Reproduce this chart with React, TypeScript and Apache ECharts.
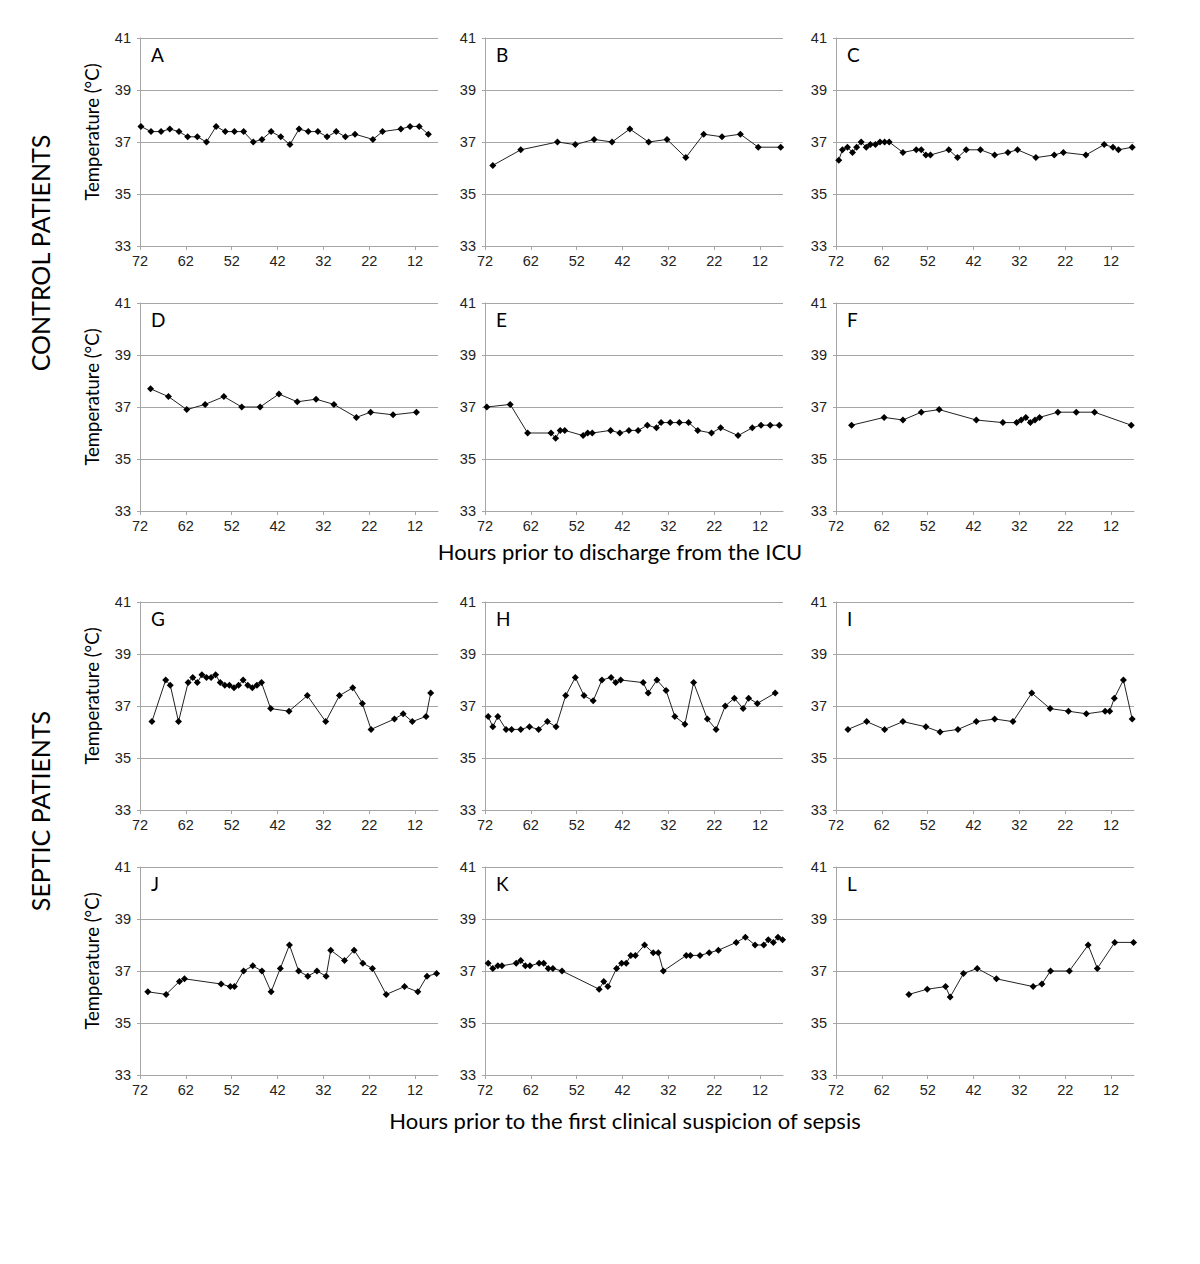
import React, { useEffect, useRef } from "react";
import * as echarts from "echarts";

// ---- tick labels ----
const xTicks = [72, 62, 52, 42, 32, 22, 12];
const yTicks = [33, 35, 37, 39, 41];
const panelLetters = ["A", "B", "C", "D", "E", "F", "G", "H", "I", "J", "K", "L"];

// ---- series values (hours prior, temperature °C) ----
const hoursA = [71.8, 69.6, 67.4, 65.5, 63.5, 61.6, 59.5, 57.5, 55.4, 53.4, 51.4, 49.4, 47.3, 45.4, 43.4, 41.3, 39.3, 37.3, 35.3, 33.2, 31.2, 29.2, 27.2, 25.1, 21.2, 19.1, 15.1, 13.1, 11.1, 9.1];
const tempsA = [37.6, 37.4, 37.4, 37.5, 37.4, 37.2, 37.2, 37.0, 37.6, 37.4, 37.4, 37.4, 37.0, 37.1, 37.4, 37.2, 36.9, 37.5, 37.4, 37.4, 37.2, 37.4, 37.2, 37.3, 37.1, 37.4, 37.5, 37.6, 37.6, 37.3];

const hoursB = [70.3, 64.2, 56.2, 52.3, 48.2, 44.3, 40.4, 36.3, 32.3, 28.2, 24.3, 20.3, 16.3, 12.4, 7.5];
const tempsB = [36.1, 36.7, 37.0, 36.9, 37.1, 37.0, 37.5, 37.0, 37.1, 36.4, 37.3, 37.2, 37.3, 36.8, 36.8];

const hoursC = [71.4, 70.6, 69.5, 68.4, 67.5, 66.5, 65.4, 64.5, 63.4, 62.4, 61.4, 60.4, 57.4, 54.5, 53.4, 52.4, 51.4, 47.4, 45.5, 43.6, 40.5, 37.4, 34.5, 32.4, 28.4, 24.4, 22.4, 17.5, 13.5, 11.6, 10.4, 7.4];
const tempsC = [36.3, 36.7, 36.8, 36.6, 36.8, 37.0, 36.8, 36.9, 36.9, 37.0, 37.0, 37.0, 36.6, 36.7, 36.7, 36.5, 36.5, 36.7, 36.4, 36.7, 36.7, 36.5, 36.6, 36.7, 36.4, 36.5, 36.6, 36.5, 36.9, 36.8, 36.7, 36.8];

const hoursD = [69.7, 65.8, 61.8, 57.8, 53.7, 49.8, 45.8, 41.7, 37.7, 33.6, 29.7, 24.8, 21.7, 16.8, 11.7];
const tempsD = [37.7, 37.4, 36.9, 37.1, 37.4, 37.0, 37.0, 37.5, 37.2, 37.3, 37.1, 36.6, 36.8, 36.7, 36.8];

const hoursE = [71.6, 66.5, 62.7, 57.6, 56.6, 55.6, 54.6, 50.6, 49.6, 48.6, 44.6, 42.6, 40.6, 38.6, 36.6, 34.6, 33.6, 31.6, 29.6, 27.6, 25.6, 22.6, 20.6, 16.8, 13.7, 11.8, 9.8, 7.8];
const tempsE = [37.0, 37.1, 36.0, 36.0, 35.8, 36.1, 36.1, 35.9, 36.0, 36.0, 36.1, 36.0, 36.1, 36.1, 36.3, 36.2, 36.4, 36.4, 36.4, 36.4, 36.1, 36.0, 36.2, 35.9, 36.2, 36.3, 36.3, 36.3];

const hoursF = [68.6, 61.5, 57.4, 53.4, 49.5, 41.4, 35.6, 32.6, 31.6, 30.6, 29.6, 28.6, 27.6, 23.6, 19.6, 15.6, 7.6];
const tempsF = [36.3, 36.6, 36.5, 36.8, 36.9, 36.5, 36.4, 36.4, 36.5, 36.6, 36.4, 36.5, 36.6, 36.8, 36.8, 36.8, 36.3];

const hoursG = [69.4, 66.4, 65.4, 63.6, 61.5, 60.5, 59.5, 58.5, 57.5, 56.5, 55.5, 54.5, 53.5, 52.5, 51.5, 50.5, 49.5, 48.5, 47.5, 46.5, 45.5, 43.5, 39.5, 35.5, 31.5, 28.5, 25.6, 23.5, 21.6, 16.5, 14.6, 12.6, 9.6, 8.6];
const tempsG = [36.4, 38.0, 37.8, 36.4, 37.9, 38.1, 37.9, 38.2, 38.1, 38.1, 38.2, 37.9, 37.8, 37.8, 37.7, 37.8, 38.0, 37.8, 37.7, 37.8, 37.9, 36.9, 36.8, 37.4, 36.4, 37.4, 37.7, 37.1, 36.1, 36.5, 36.7, 36.4, 36.6, 37.5];

const hoursH = [71.3, 70.3, 69.2, 67.4, 66.2, 64.2, 62.3, 60.3, 58.4, 56.5, 54.4, 52.3, 50.4, 48.4, 46.5, 44.5, 43.5, 42.4, 37.5, 36.4, 34.5, 32.5, 30.6, 28.4, 26.5, 23.5, 21.6, 19.6, 17.6, 15.7, 14.5, 12.6, 8.7];
const tempsH = [36.6, 36.2, 36.6, 36.1, 36.1, 36.1, 36.2, 36.1, 36.4, 36.2, 37.4, 38.1, 37.4, 37.2, 38.0, 38.1, 37.9, 38.0, 37.9, 37.5, 38.0, 37.6, 36.6, 36.3, 37.9, 36.5, 36.1, 37.0, 37.3, 36.9, 37.3, 37.1, 37.5];

const hoursI = [69.4, 65.3, 61.4, 57.4, 52.4, 49.3, 45.4, 41.4, 37.4, 33.4, 29.3, 25.3, 21.3, 17.4, 13.3, 12.3, 11.3, 9.3, 7.4];
const tempsI = [36.1, 36.4, 36.1, 36.4, 36.2, 36.0, 36.1, 36.4, 36.5, 36.4, 37.5, 36.9, 36.8, 36.7, 36.8, 36.8, 37.3, 38.0, 36.5];

const hoursJ = [70.3, 66.3, 63.4, 62.3, 54.3, 52.3, 51.4, 49.4, 47.4, 45.4, 43.4, 41.4, 39.4, 37.4, 35.4, 33.4, 31.4, 30.4, 27.4, 25.3, 23.4, 21.3, 18.3, 14.3, 11.4, 9.4, 7.3];
const tempsJ = [36.2, 36.1, 36.6, 36.7, 36.5, 36.4, 36.4, 37.0, 37.2, 37.0, 36.2, 37.1, 38.0, 37.0, 36.8, 37.0, 36.8, 37.8, 37.4, 37.8, 37.3, 37.1, 36.1, 36.4, 36.2, 36.8, 36.9];

const hoursK = [71.3, 70.3, 69.2, 68.3, 65.2, 64.2, 63.2, 62.2, 60.2, 59.2, 58.2, 57.2, 55.2, 47.1, 46.1, 45.2, 43.3, 42.2, 41.2, 40.2, 39.2, 37.2, 35.3, 34.2, 33.1, 28.1, 27.2, 25.1, 23.1, 21.1, 17.2, 15.2, 13.1, 11.2, 10.2, 9.1, 8.1, 7.1];
const tempsK = [37.3, 37.1, 37.2, 37.2, 37.3, 37.4, 37.2, 37.2, 37.3, 37.3, 37.1, 37.1, 37.0, 36.3, 36.6, 36.4, 37.1, 37.3, 37.3, 37.6, 37.6, 38.0, 37.7, 37.7, 37.0, 37.6, 37.6, 37.6, 37.7, 37.8, 38.1, 38.3, 38.0, 38.0, 38.2, 38.1, 38.3, 38.2];

const hoursL = [56.1, 52.1, 48.1, 47.1, 44.2, 41.2, 37.0, 29.0, 27.1, 25.2, 21.1, 17.0, 15.0, 11.2, 7.1];
const tempsL = [36.1, 36.3, 36.4, 36.0, 36.9, 37.1, 36.7, 36.4, 36.5, 37.0, 37.0, 38.0, 37.1, 38.1, 38.1];

const allHours = [hoursA, hoursB, hoursC, hoursD, hoursE, hoursF, hoursG, hoursH, hoursI, hoursJ, hoursK, hoursL];
const allTemps = [tempsA, tempsB, tempsC, tempsD, tempsE, tempsF, tempsG, tempsH, tempsI, tempsJ, tempsK, tempsL];

const rowTitles = ["CONTROL PATIENTS", "SEPTIC PATIENTS"];
const xTitles = ["Hours prior to discharge from the ICU", "Hours prior to the first clinical suspicion of sepsis"];
const yTitle = "Temperature (°C)";

export default function App() {
  const ref = useRef<HTMLDivElement>(null);

  useEffect(() => {
    document.body.style.margin = "0";
    const chart = echarts.init(ref.current!, null, { renderer: "svg" });

    const colLefts = [140, 485, 836];
    const rowTops = [38, 303, 602, 867];
    const W = 298;
    const H = 208;
    const GRID = "#a6a6a6";
    const TXT = "#222";
    const numFont = "Liberation Sans";
    const titleFont = "Lato";

    const grids: any[] = [];
    const xAxes: any[] = [];
    const yAxes: any[] = [];
    const series: any[] = [];
    const graphics: any[] = [];

    for (let i = 0; i < 12; i++) {
      const r = Math.floor(i / 3);
      const c = i % 3;
      grids.push({ left: colLefts[c], top: rowTops[r], width: W, height: H, containLabel: false });
      xAxes.push({
        type: "value",
        gridIndex: i,
        min: 7,
        max: 72,
        inverse: true,
        axisLine: { show: true, lineStyle: { color: GRID, width: 1 } },
        axisTick: { show: true, customValues: xTicks, length: 4, lineStyle: { color: GRID } },
        axisLabel: { customValues: xTicks, color: TXT, fontSize: 14.5, fontFamily: numFont, margin: 7 },
        splitLine: { show: false },
      });
      yAxes.push({
        type: "value",
        gridIndex: i,
        min: yTicks[0],
        max: yTicks[yTicks.length - 1],
        interval: 2,
        axisLine: { show: true, lineStyle: { color: GRID, width: 1 } },
        axisTick: { show: true, length: 3, lineStyle: { color: GRID } },
        axisLabel: { color: TXT, fontSize: 14.5, fontFamily: numFont, margin: 9 },
        splitLine: { show: true, lineStyle: { color: GRID, width: 1 } },
      });
      series.push({
        type: "line",
        xAxisIndex: i,
        yAxisIndex: i,
        data: allHours[i].map((h, k) => [h, allTemps[i][k]]),
        symbol: "diamond",
        symbolSize: 7,
        showSymbol: true,
        itemStyle: { color: "#000" },
        lineStyle: { color: "#222", width: 1 },
        silent: true,
      });
      graphics.push({
        type: "text",
        x: colLefts[c] + 11,
        y: rowTops[r] + 16,
        style: {
          text: panelLetters[i],
          font: `19px ${titleFont}`,
          fill: "#000",
          textAlign: "left",
          textVerticalAlign: "middle",
        },
      });
      if (c === 0) {
        graphics.push({
          type: "text",
          x: 92,
          y: rowTops[r] + H / 2 - 10,
          rotation: Math.PI / 2,
          style: {
            text: yTitle,
            font: `18.5px ${titleFont}`,
            fill: "#000",
            textAlign: "center",
            textVerticalAlign: "middle",
          },
        });
      }
    }

    graphics.push({
      type: "text",
      x: 40,
      y: 253,
      rotation: Math.PI / 2,
      style: { text: rowTitles[0], font: `25px ${titleFont}`, fill: "#000", textAlign: "center", textVerticalAlign: "middle" },
    });
    graphics.push({
      type: "text",
      x: 40,
      y: 811,
      rotation: Math.PI / 2,
      style: { text: rowTitles[1], font: `25px ${titleFont}`, fill: "#000", textAlign: "center", textVerticalAlign: "middle" },
    });
    graphics.push({
      type: "text",
      x: 620,
      y: 551,
      style: { text: xTitles[0], font: `22px ${titleFont}`, fill: "#000", textAlign: "center", textVerticalAlign: "middle" },
    });
    graphics.push({
      type: "text",
      x: 625,
      y: 1120,
      style: { text: xTitles[1], font: `22px ${titleFont}`, fill: "#000", textAlign: "center", textVerticalAlign: "middle" },
    });

    chart.setOption({
      animation: false,
      backgroundColor: "#fff",
      grid: grids,
      xAxis: xAxes,
      yAxis: yAxes,
      series,
      graphic: graphics,
    });

    return () => chart.dispose();
  }, []);

  return <div ref={ref} style={{ width: 1200, height: 1264 }} />;
}
